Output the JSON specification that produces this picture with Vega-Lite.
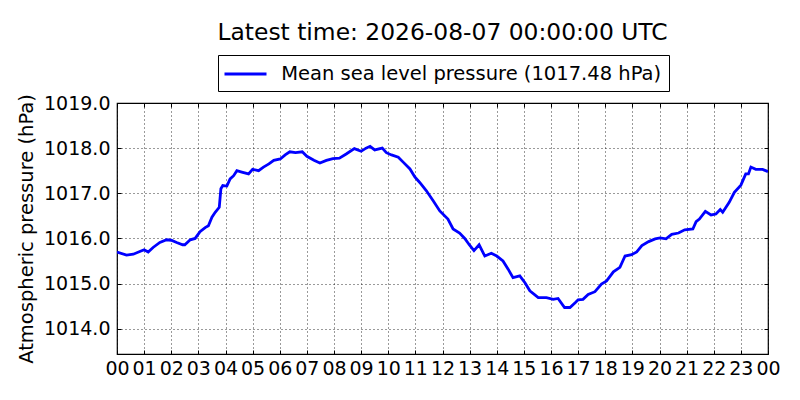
{
  "$schema": "https://vega.github.io/schema/vega-lite/v6.json",
  "width": 651,
  "height": 251,
  "autosize": {"type": "none"},
  "padding": {"left": 117, "top": 103, "right": 32, "bottom": 46},
  "background": "white",
  "title": {
    "text": "Latest time: 2026-08-07 00:00:00 UTC",
    "font": "DejaVu Sans",
    "fontSize": 23.4,
    "fontWeight": "normal",
    "color": "black",
    "anchor": "middle",
    "frame": "group",
    "baseline": "alphabetic",
    "offset": -9
  },
  "data": {
    "values": [
      {"hour": 0, "pressure": 1015.70},
      {"hour": 0.35, "pressure": 1015.63},
      {"hour": 0.6, "pressure": 1015.65},
      {"hour": 0.84, "pressure": 1015.71},
      {"hour": 1.0, "pressure": 1015.75},
      {"hour": 1.15, "pressure": 1015.70},
      {"hour": 1.33, "pressure": 1015.80},
      {"hour": 1.58, "pressure": 1015.91},
      {"hour": 1.83, "pressure": 1015.97},
      {"hour": 2.0, "pressure": 1015.96},
      {"hour": 2.2, "pressure": 1015.91},
      {"hour": 2.42, "pressure": 1015.86},
      {"hour": 2.5, "pressure": 1015.86},
      {"hour": 2.7, "pressure": 1015.97},
      {"hour": 2.88, "pressure": 1016.00},
      {"hour": 3.06, "pressure": 1016.15},
      {"hour": 3.25, "pressure": 1016.24},
      {"hour": 3.37, "pressure": 1016.28},
      {"hour": 3.5, "pressure": 1016.47},
      {"hour": 3.62, "pressure": 1016.58},
      {"hour": 3.77, "pressure": 1016.69},
      {"hour": 3.83, "pressure": 1017.10},
      {"hour": 3.9, "pressure": 1017.17},
      {"hour": 4.05, "pressure": 1017.16},
      {"hour": 4.17, "pressure": 1017.32},
      {"hour": 4.3, "pressure": 1017.39},
      {"hour": 4.42, "pressure": 1017.50},
      {"hour": 4.6, "pressure": 1017.47},
      {"hour": 4.85, "pressure": 1017.43},
      {"hour": 5.0, "pressure": 1017.53},
      {"hour": 5.22, "pressure": 1017.50},
      {"hour": 5.4, "pressure": 1017.58},
      {"hour": 5.6, "pressure": 1017.65},
      {"hour": 5.78, "pressure": 1017.73},
      {"hour": 6.02, "pressure": 1017.76},
      {"hour": 6.2, "pressure": 1017.85},
      {"hour": 6.37, "pressure": 1017.92},
      {"hour": 6.58, "pressure": 1017.90},
      {"hour": 6.83, "pressure": 1017.92},
      {"hour": 7.0, "pressure": 1017.82},
      {"hour": 7.26, "pressure": 1017.73},
      {"hour": 7.48, "pressure": 1017.67},
      {"hour": 7.72, "pressure": 1017.73},
      {"hour": 7.96, "pressure": 1017.77},
      {"hour": 8.2, "pressure": 1017.78},
      {"hour": 8.45, "pressure": 1017.87},
      {"hour": 8.75, "pressure": 1017.99},
      {"hour": 9.0, "pressure": 1017.93},
      {"hour": 9.18, "pressure": 1018.00},
      {"hour": 9.33, "pressure": 1018.04},
      {"hour": 9.5, "pressure": 1017.96},
      {"hour": 9.78, "pressure": 1018.00},
      {"hour": 9.93, "pressure": 1017.90},
      {"hour": 10.12, "pressure": 1017.85},
      {"hour": 10.37, "pressure": 1017.80},
      {"hour": 10.55, "pressure": 1017.69},
      {"hour": 10.8, "pressure": 1017.54},
      {"hour": 10.98, "pressure": 1017.36},
      {"hour": 11.16, "pressure": 1017.24},
      {"hour": 11.4, "pressure": 1017.06},
      {"hour": 11.65, "pressure": 1016.84},
      {"hour": 11.9, "pressure": 1016.61},
      {"hour": 12.2, "pressure": 1016.43},
      {"hour": 12.39, "pressure": 1016.21},
      {"hour": 12.63, "pressure": 1016.12},
      {"hour": 12.82, "pressure": 1016.00},
      {"hour": 13.0, "pressure": 1015.85},
      {"hour": 13.16, "pressure": 1015.73},
      {"hour": 13.35, "pressure": 1015.86},
      {"hour": 13.56, "pressure": 1015.61},
      {"hour": 13.8, "pressure": 1015.67},
      {"hour": 14.0, "pressure": 1015.61},
      {"hour": 14.23, "pressure": 1015.50},
      {"hour": 14.42, "pressure": 1015.32},
      {"hour": 14.6, "pressure": 1015.13},
      {"hour": 14.85, "pressure": 1015.17},
      {"hour": 15.04, "pressure": 1015.02},
      {"hour": 15.22, "pressure": 1014.84},
      {"hour": 15.53, "pressure": 1014.69},
      {"hour": 15.83, "pressure": 1014.69},
      {"hour": 16.08, "pressure": 1014.65},
      {"hour": 16.26, "pressure": 1014.67},
      {"hour": 16.5, "pressure": 1014.47},
      {"hour": 16.7, "pressure": 1014.47},
      {"hour": 16.9, "pressure": 1014.58},
      {"hour": 17.0, "pressure": 1014.64},
      {"hour": 17.18, "pressure": 1014.65},
      {"hour": 17.37, "pressure": 1014.76},
      {"hour": 17.62, "pressure": 1014.82},
      {"hour": 17.86, "pressure": 1014.99},
      {"hour": 18.05, "pressure": 1015.06},
      {"hour": 18.3, "pressure": 1015.26},
      {"hour": 18.54, "pressure": 1015.36},
      {"hour": 18.73, "pressure": 1015.61},
      {"hour": 18.97, "pressure": 1015.64},
      {"hour": 19.16, "pressure": 1015.70},
      {"hour": 19.35, "pressure": 1015.84},
      {"hour": 19.6, "pressure": 1015.93},
      {"hour": 19.84, "pressure": 1015.99},
      {"hour": 20.02, "pressure": 1016.01},
      {"hour": 20.24, "pressure": 1015.99},
      {"hour": 20.45, "pressure": 1016.09},
      {"hour": 20.7, "pressure": 1016.12},
      {"hour": 20.93, "pressure": 1016.19},
      {"hour": 21.23, "pressure": 1016.21},
      {"hour": 21.35, "pressure": 1016.37},
      {"hour": 21.47, "pressure": 1016.43},
      {"hour": 21.69, "pressure": 1016.60},
      {"hour": 21.9, "pressure": 1016.52},
      {"hour": 22.08, "pressure": 1016.54},
      {"hour": 22.24, "pressure": 1016.64},
      {"hour": 22.33, "pressure": 1016.58},
      {"hour": 22.57, "pressure": 1016.80},
      {"hour": 22.76, "pressure": 1017.02},
      {"hour": 23.0, "pressure": 1017.18},
      {"hour": 23.18, "pressure": 1017.43},
      {"hour": 23.28, "pressure": 1017.43},
      {"hour": 23.37, "pressure": 1017.58},
      {"hour": 23.55, "pressure": 1017.53},
      {"hour": 23.8, "pressure": 1017.53},
      {"hour": 24.0, "pressure": 1017.48}
    ]
  },
  "layer": [
    {
      "mark": {"type": "line", "strokeWidth": 2.8, "clip": true},
      "encoding": {
        "x": {
          "field": "hour",
          "type": "quantitative",
          "scale": {"domain": [0, 24], "nice": false, "zero": false},
          "axis": {
            "orient": "bottom",
            "title": null,
            "values": [0, 1, 2, 3, 4, 5, 6, 7, 8, 9, 10, 11, 12, 13, 14, 15, 16, 17, 18, 19, 20, 21, 22, 23, 24],
            "labelExpr": "datum.value == 24 ? '00' : (datum.value < 10 ? '0' + datum.value : '' + datum.value)",
            "labelOverlap": false,
            "labelFlush": false,
            "labelPadding": 9,
            "tickSize": -4,
            "grid": true
          }
        },
        "y": {
          "field": "pressure",
          "type": "quantitative",
          "scale": {"domain": [1013.44, 1019.0], "nice": false, "zero": false},
          "axis": {
            "orient": "left",
            "title": "Atmospheric pressure (hPa)",
            "values": [1014, 1015, 1016, 1017, 1018, 1019],
            "format": ".1f",
            "labelPadding": 11,
            "tickSize": -4,
            "titlePadding": 7,
            "grid": true
          }
        },
        "color": {
          "datum": "Mean sea level pressure (1017.48 hPa)",
          "type": "nominal",
          "scale": {"range": ["#0000ff"]},
          "legend": {
            "title": null,
            "orient": "none",
            "legendX": 101,
            "legendY": -48,
            "symbolType": "M-2,0L2,0",
            "symbolSize": 441,
            "symbolOffset": 8.5,
            "symbolStrokeWidth": 2.8,
            "labelOffset": 23.7,
            "labelFont": "DejaVu Sans",
            "labelFontSize": 19.5,
            "labelColor": "black",
            "labelLimit": 600,
            "padding": 7,
            "strokeColor": "black",
            "fillColor": "white",
            "cornerRadius": 0
          }
        }
      }
    },
    {
      "mark": {"type": "line", "strokeOpacity": 0},
      "encoding": {
        "x": {
          "field": "hour",
          "type": "quantitative",
          "scale": {"domain": [0, 24], "nice": false, "zero": false},
          "axis": {
            "orient": "top",
            "title": null,
            "values": [0, 1, 2, 3, 4, 5, 6, 7, 8, 9, 10, 11, 12, 13, 14, 15, 16, 17, 18, 19, 20, 21, 22, 23, 24],
            "labels": false,
            "tickSize": -4,
            "grid": false
          }
        },
        "y": {
          "field": "pressure",
          "type": "quantitative",
          "scale": {"domain": [1013.44, 1019.0], "nice": false, "zero": false},
          "axis": {
            "orient": "right",
            "title": null,
            "values": [1014, 1015, 1016, 1017, 1018, 1019],
            "labels": false,
            "tickSize": -4,
            "grid": false
          }
        }
      }
    }
  ],
  "resolve": {"axis": {"x": "independent", "y": "independent"}},
  "config": {
    "font": "DejaVu Sans",
    "view": {"stroke": "black", "strokeWidth": 1.2},
    "axis": {
      "domain": false,
      "labelFont": "DejaVu Sans",
      "labelFontSize": 19,
      "labelColor": "black",
      "titleFont": "DejaVu Sans",
      "titleFontSize": 19.5,
      "titleFontWeight": "normal",
      "titleColor": "black",
      "tickColor": "black",
      "tickWidth": 1,
      "gridColor": "black",
      "gridDash": [1, 3],
      "gridWidth": 0.8,
      "gridOpacity": 1
    }
  }
}
